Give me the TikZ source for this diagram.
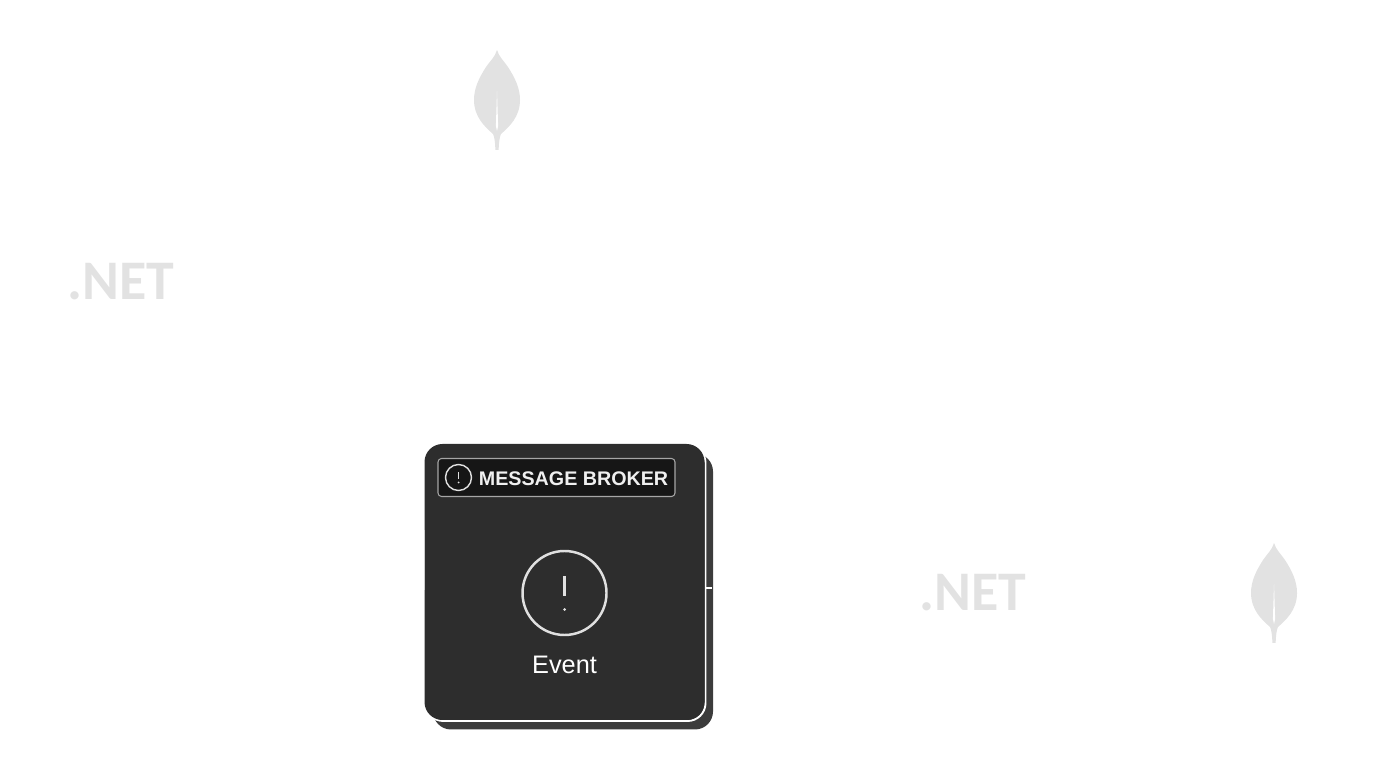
\documentclass[tikz,border=0pt]{standalone}
\usepackage{fontspec}
\setmainfont{Liberation Sans}
\newfontfamily\logofont{Carlito}
\usetikzlibrary{positioning}
\definecolor{cardfill}{HTML}{2D2D2D}
\definecolor{cardshade}{HTML}{3C3C3C}
\definecolor{bannerfill}{HTML}{161616}
\definecolor{ghost}{HTML}{E2E2E2}
\tikzstyle{card}=[
	rectangle,
	rounded corners=18\unit,
	minimum width=280\unit,
	minimum height=276\unit,
	inner sep=0pt
]
\tikzstyle{banner}=[
	rectangle,
	draw=white!65!black,
	line width=0.3pt,
	fill=bannerfill,
	rounded corners=1pt,
	minimum width=237\unit,
	minimum height=38\unit,
	inner sep=0pt
]
\tikzstyle{ring}=[
	circle,
	draw=white!88!black,
	inner sep=0pt
]
\tikzstyle{dotnet}=[
	text=ghost,
	inner sep=0pt,
	font=\logofont\fontsize{15.9pt}{18pt}\selectfont\bfseries
]
\tikzstyle{leaf}=[
	fill=ghost,
	draw=none
]
\newdimen\unit
\unit=0.01cm
\newcommand{\leafat}[2]{
\fill [leaf,shift={(#1,#2)}] (0,-50) .. controls (2,-43) and (7,-39) .. (11,-33)
	.. controls (18,-22) and (23,-12) .. (23,0) .. controls (23,17) and (12,27) .. (4,34)
	.. controls (3,36) and (2,40) .. (1.6,50) -- (-1.6,50) .. controls (-2,40) and (-3,36) .. (-4,34)
	.. controls (-12,27) and (-23,17) .. (-23,0)
	.. controls (-23,-12) and (-18,-22) .. (-11,-33) .. controls (-7,-39) and (-2,-43) .. (0,-50) -- cycle;
\fill [white,shift={(#1,#2)}] (0,-9) -- (1.1,26) -- (0,31) -- (-1.1,26) -- cycle;
}

\begin{document}
\begin{tikzpicture}[x=0.01cm,y=-0.01cm]
\useasboundingbox (0,0) rectangle (1386,771);
\leafat{497}{100}
\leafat{1274}{593}
\node [dotnet] (DotnetLeft) at (121,282) {.NET};
\node [dotnet] (DotnetRight) at (973,593) {.NET};
% card with its offset shadow
\node [card,fill=cardshade] (CardShade) at (573,591.5) {};
\node [card,fill=cardfill,draw=white,line width=0.55pt] (CardLine) at (565.5,583) {};
\node [card,fill=cardfill] (Card) at (564.5,582) {};
\draw [white,line width=0.55pt] (705.5,588) -- (712,588);
\draw [white!80!black,line width=0.25pt] (424.5,530) -- (424.5,590);
% banner
\node [banner] (Banner) at (556.5,477.5) {};
\node [ring,minimum size=26\unit,line width=0.4pt] (BannerRing) at (458.5,477.5) {};
\node [text=white!94!black,inner sep=0pt,font=\fontsize{5.6pt}{7pt}\selectfont\bfseries,right=6\unit of BannerRing,yshift=-1.5\unit] (BrokerLabel) {MESSAGE BROKER};
\draw [white!88!black,line width=0.35pt] (458.5,472) -- (458.5,479.5);
\fill [white!88!black] (458.5,482.5) circle (1\unit);
% event
\node [ring,minimum size=84\unit,line width=0.7pt] (EventRing) at (564.5,593) {};
\draw [white!88!black,line width=0.6pt] (564.5,576) -- (564.5,596);
\fill [white!88!black] (564.5,609.5) circle (1.5\unit);
\node [text=white,inner sep=0pt,font=\fontsize{7.2pt}{9pt}\selectfont,below=19\unit of EventRing] (EventLabel) {Event};
\end{tikzpicture}
\end{document}
